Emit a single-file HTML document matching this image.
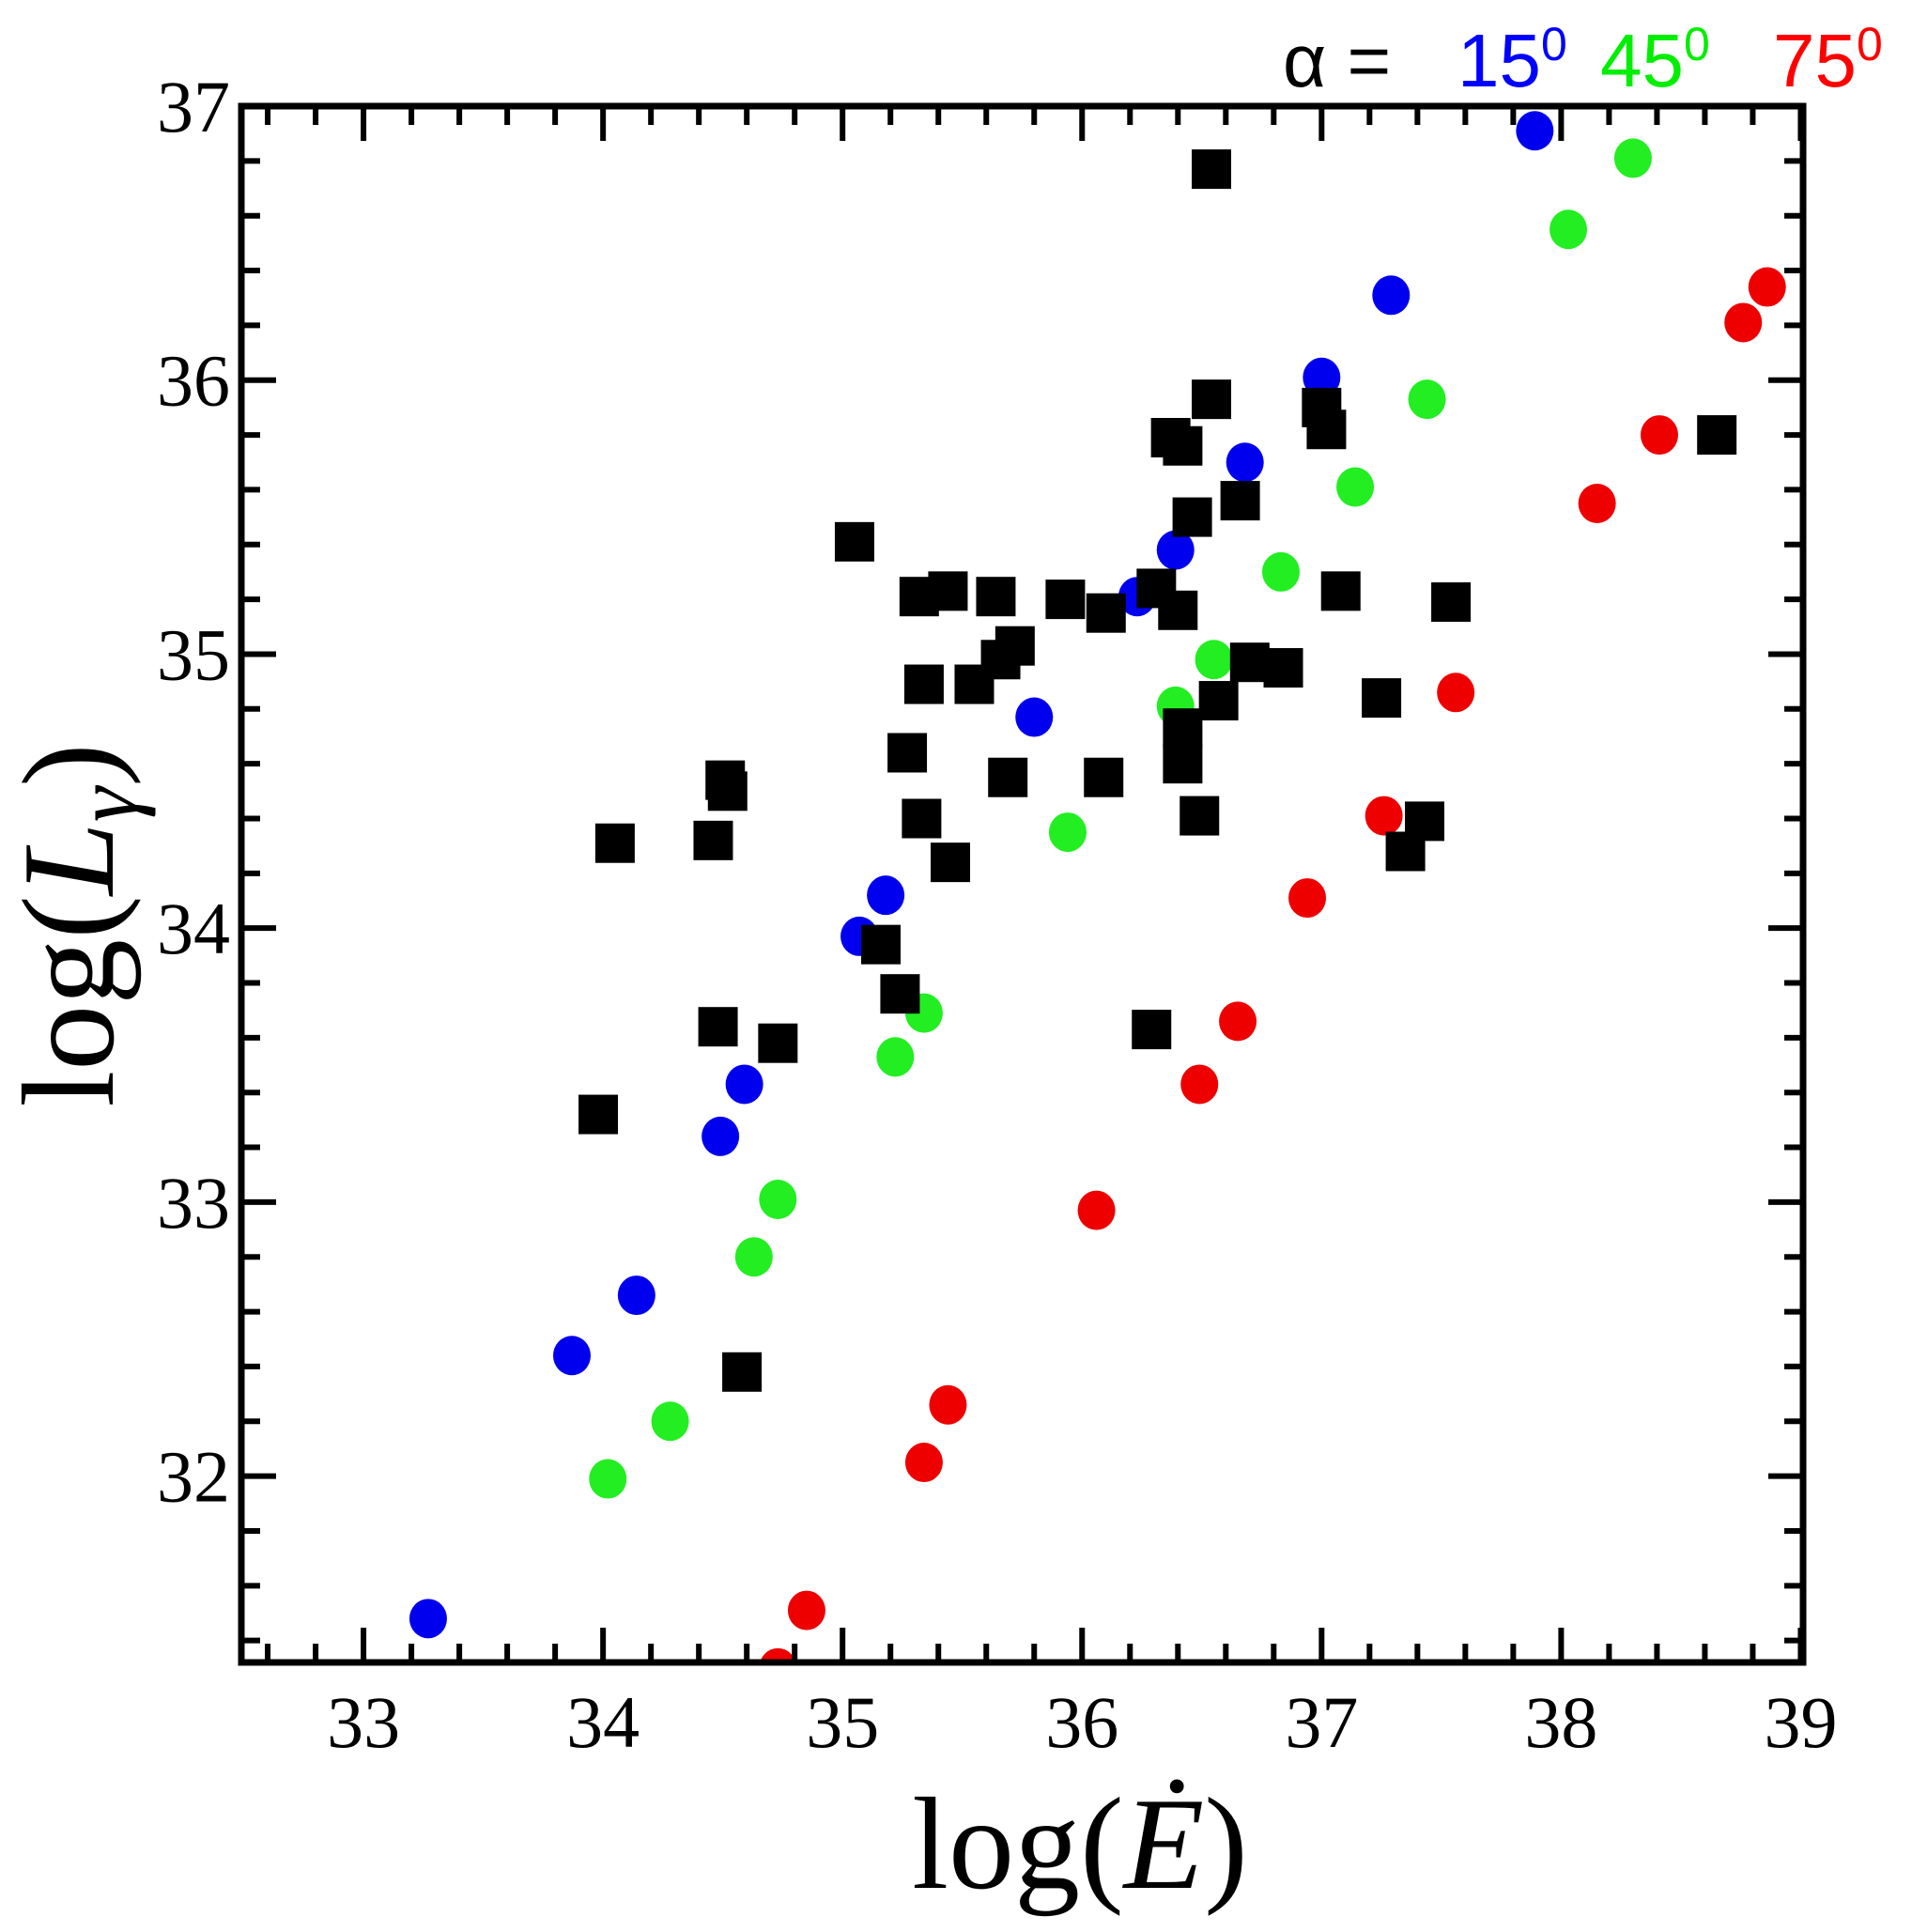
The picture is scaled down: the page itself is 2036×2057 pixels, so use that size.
<!DOCTYPE html>
<html><head><meta charset="utf-8">
<style>
html,body{margin:0;padding:0;background:#fff;}
svg{display:block;}
</style></head>
<body>
<svg id="chart" xmlns="http://www.w3.org/2000/svg" width="2036" height="2057" viewBox="0 0 2036 2057">
<defs><clipPath id="plotclip"><rect x="257" y="113" width="1663" height="1657"/></clipPath></defs>
<g id="marks" clip-path="url(#plotclip)"></g>
<g id="axes"></g>
<text x="1366" y="92" font-family="Liberation Sans, sans-serif" font-size="80" fill="#000">α =</text>
<text x="1552" y="92" font-family="Liberation Sans, sans-serif" font-size="80" fill="#0000ff">15<tspan dy="-28" font-size="50">0</tspan></text>
<text x="1704" y="92" font-family="Liberation Sans, sans-serif" font-size="80" fill="#00ee00">45<tspan dy="-28" font-size="50">0</tspan></text>
<text x="1888" y="92" font-family="Liberation Sans, sans-serif" font-size="80" fill="#ff0000">75<tspan dy="-28" font-size="50">0</tspan></text>
<text x="1150" y="2010" text-anchor="middle" font-family="Liberation Serif, serif" font-size="140" fill="#000">log(<tspan font-style="italic">Ė</tspan>)</text>
<text transform="translate(120,985) rotate(-90)" text-anchor="middle" font-family="Liberation Serif, serif" font-size="140" fill="#000">log(<tspan font-style="italic">L</tspan><tspan font-style="italic" font-size="95" dy="25">γ</tspan><tspan dy="-25">)</tspan></text>
</svg>
<script>
const blueX=[33.27,33.87,34.14,34.49,34.59,35.07,35.18,35.80,36.23,36.39,36.68,37.00,37.29,37.89];
const blueY=[31.48,32.44,32.66,33.24,33.43,33.97,34.12,34.77,35.21,35.38,35.70,36.01,36.31,36.91];
const greenX=[34.02,34.28,34.63,34.73,35.22,35.34,35.94,36.39,36.55,36.83,37.14,37.44,38.03,38.30];
const greenY=[31.99,32.20,32.80,33.01,33.53,33.69,34.35,34.81,34.98,35.30,35.61,35.93,36.55,36.81];
const redX=[34.73,34.85,35.34,35.44,36.06,36.49,36.65,36.94,37.26,37.56,38.15,38.41,38.76,38.86];
const redY=[31.30,31.51,32.05,32.26,32.97,33.43,33.66,34.11,34.41,34.86,35.55,35.80,36.21,36.34];
const sqX=[33.98,34.05,34.46,34.51,34.52,34.48,34.73,34.58,35.05,35.16,35.24,35.27,35.32,35.34,35.33,35.44,35.45,35.55,35.64,35.66,35.72,35.69,35.93,36.10,36.09,36.29,36.31,36.37,36.42,36.40,36.42,36.42,36.46,36.49,36.54,36.54,36.57,36.66,36.70,36.84,37.00,37.02,37.08,37.25,37.35,37.43,37.54,38.65];
const sqY=[33.32,34.31,34.32,34.54,34.50,33.64,33.58,32.38,35.41,33.94,33.76,34.64,35.21,34.89,34.40,35.23,34.24,34.89,35.21,34.98,35.03,34.55,35.20,35.15,34.55,33.63,35.24,35.79,35.76,35.16,34.73,34.60,35.50,34.41,35.93,36.77,34.83,35.56,34.97,34.95,35.90,35.82,35.23,34.84,34.28,34.39,35.19,35.80];
const xTicks=[33,34,35,36,37,38,39];
const yTicks=[32,33,34,35,36,37];

const L=257,R=1920,T=113,B=1770;
const X0=32.49,X1=39.01,Y0=31.32,Y1=37.0;
function sx(v){return L+(v-X0)/(X1-X0)*(R-L);}
function sy(v){return B-(v-Y0)/(Y1-Y0)*(B-T);}
const NS='http://www.w3.org/2000/svg';
const marks=document.getElementById('marks');
const axes=document.getElementById('axes');
function mk(tag,attrs,parent){const e=document.createElementNS(NS,tag);for(const k in attrs)e.setAttribute(k,attrs[k]);parent.appendChild(e);return e;}

function circles(xs,ys,color,name){
  for(let i=0;i<xs.length;i++){
    const c=mk('ellipse',{cx:sx(xs[i]),cy:sy(ys[i]),rx:20,ry:21,fill:color},marks);
    
    
  }
}
circles(blueX,blueY,'#0000ee','point-alpha-15');
circles(greenX,greenY,'#22ee22','point-alpha-45');
circles(redX,redY,'#ee0000','point-alpha-75');
for(let i=0;i<sqX.length;i++){
  const s=mk('rect',{x:sx(sqX[i])-21,y:sy(sqY[i])-21,width:42,height:42,fill:'#000'},marks);
  
  
}

const fr=mk('rect',{x:L,y:T,width:R-L,height:B-T,fill:'none',stroke:'#000','stroke-width':7},axes);


for(let v=32.6;v<=39.001;v+=0.2){
  const major=Math.abs(v-Math.round(v))<0.01;
  const len=major?37:20,x=sx(v);
  const t1=mk('line',{x1:x,y1:B,x2:x,y2:B-len,stroke:'#000','stroke-width':6},axes);
  
  
  const t2=mk('line',{x1:x,y1:T,x2:x,y2:T+len,stroke:'#000','stroke-width':6},axes);
  
  
}
for(let v=31.4;v<=37.001;v+=0.2){
  const major=Math.abs(v-Math.round(v))<0.01;
  const len=major?37:20,y=sy(v);
  const t1=mk('line',{x1:L,y1:y,x2:L+len,y2:y,stroke:'#000','stroke-width':6},axes);
  
  
  const t2=mk('line',{x1:R,y1:y,x2:R-len,y2:y,stroke:'#000','stroke-width':6},axes);
  
  
}
xTicks.forEach(v=>{
  const t=mk('text',{x:sx(v),y:1860,'text-anchor':'middle','font-family':'Liberation Serif, serif','font-size':78,fill:'#000'},axes);
  t.textContent=v;
  
  
});
yTicks.forEach(v=>{
  const t=mk('text',{x:245,y:sy(v)+27,'text-anchor':'end','font-family':'Liberation Serif, serif','font-size':78,fill:'#000'},axes);
  t.textContent=v;
  
  
});
</script>
</body></html>
